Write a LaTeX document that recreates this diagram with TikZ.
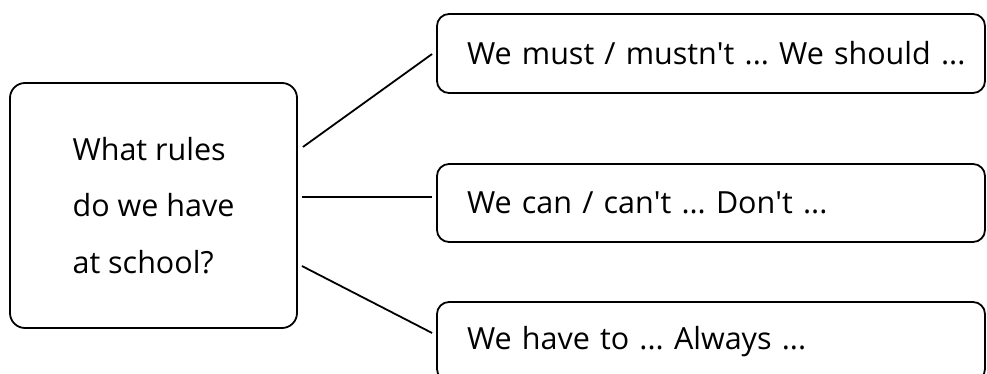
\documentclass[tikz,border=0pt]{standalone}
\usepackage{fontspec}
\setmainfont{Open Sans}
\usepackage{tikz}
\usetikzlibrary{calc}
\frenchspacing

\tikzset{
  rulebox/.style={draw, line width=1.8pt, rounded corners=12pt, inner sep=0pt,
    font=\fontsize{30.5}{56.5}\selectfont},
  rulerow/.style={rulebox, minimum width=548pt, minimum height=79pt, text width=548pt,
    align=left, execute at begin node={\hspace*{30pt}}},
  link/.style={line width=1.8pt}
}

\begin{document}
\begin{tikzpicture}[x=1pt,y=1pt,yscale=-1]
\useasboundingbox (0,0) rectangle (987,374);

%Rounded Rect: question
\draw (153.5,205.5) node (q) [rulebox, rounded corners=15pt, minimum width=287pt, minimum height=245pt, align=left]
  {What rules\\do we have\\at school?};

%Rounded Rect: must
\draw (711,53.5) node (must) [rulerow] {We must / mustn\textquotesingle t ... We should ...};
%Rounded Rect: can
\draw (711,203) node (can) [rulerow, minimum height=78pt] {We can / can\textquotesingle t ... Don\textquotesingle t ...};
%Rounded Rect: have
\draw (711,341.5) node (have) [rulerow] {We have to ... Always ...};

%Straight Lines
\draw [link] ($(q.east)+(5,-58.5)$) -- ($(must.west)+(-4,0.5)$) ;
\draw [link] ($(q.east)+(4,-8.5)$) -- ($(can.west)+(-4,-6)$) ;
\draw [link] ($(q.east)+(4,60.5)$) -- ($(have.west)+(-4,-8.5)$) ;

\end{tikzpicture}
\end{document}
